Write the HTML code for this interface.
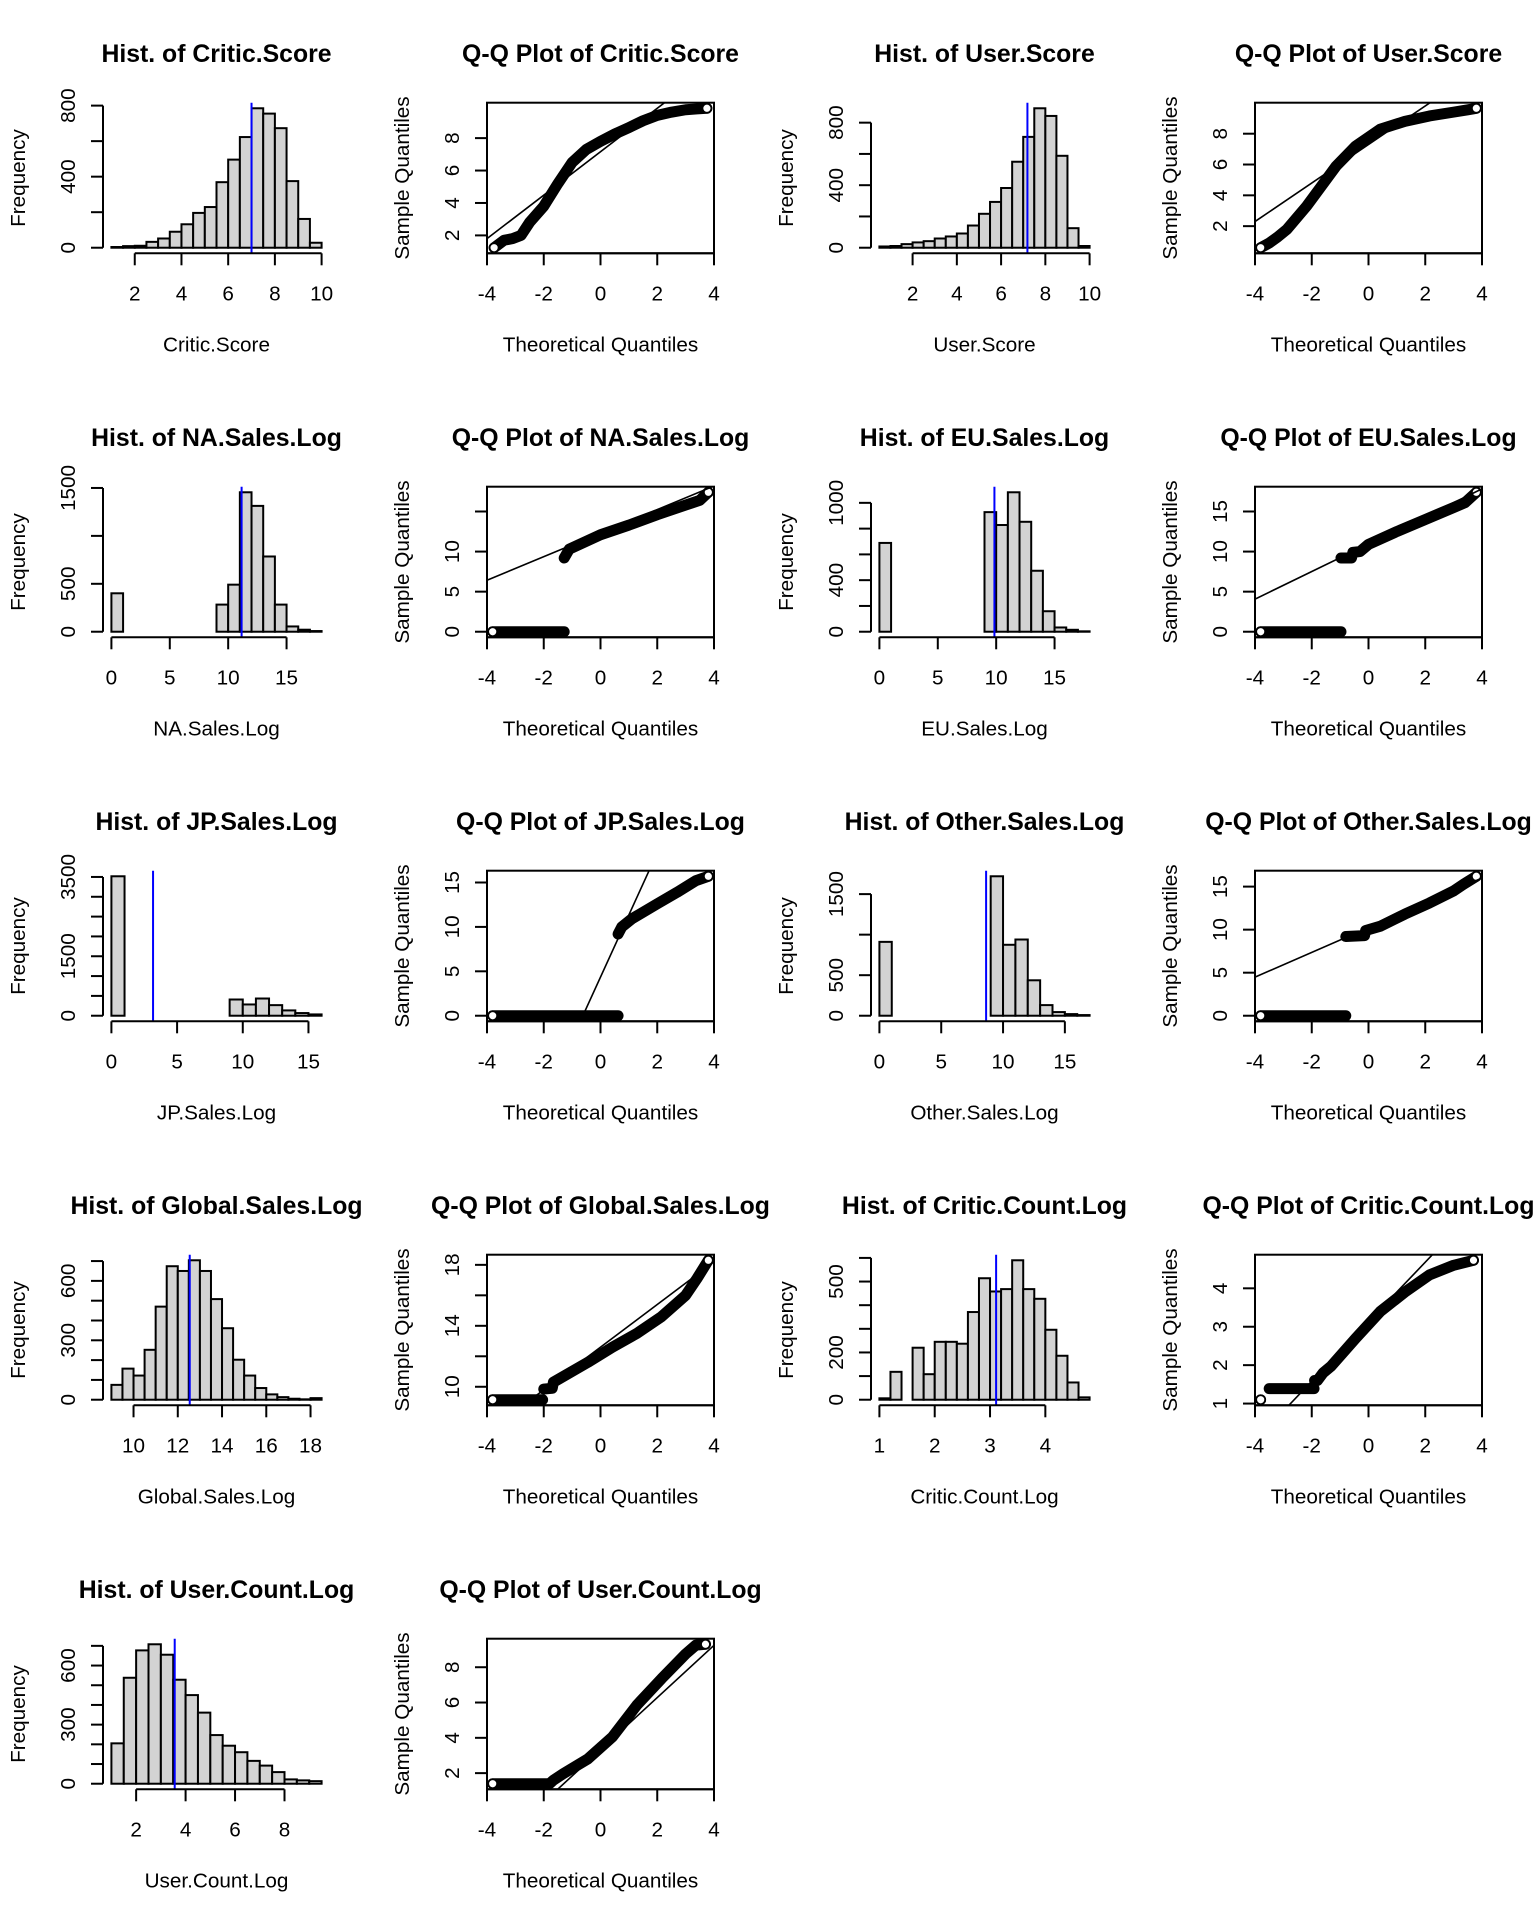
<!DOCTYPE html>
<html><head><meta charset="utf-8"><style>
html,body{margin:0;padding:0;background:#fff;}
svg{display:block;font-family:"Liberation Sans",Arial,sans-serif;}
</style></head><body>
<svg id="chart" xmlns="http://www.w3.org/2000/svg" width="1536" height="1920" viewBox="0 0 1536 1920">
<rect x="0" y="0" width="1536" height="1920" fill="#fff"/>
</svg>
<script>
// ---- Histogram data ----
const critScoreCounts=[4,9,11,33,52,90,132,196,229,369,496,623,785,755,673,375,162,28];
const critScoreStart=1, critScoreBinW=0.5, critScoreMean=7.0;
const userScoreCounts=[8,11,23,34,42,59,72,91,142,217,293,382,550,709,892,843,588,125,11];
const userScoreStart=0.5, userScoreBinW=0.5, userScoreMean=7.19;
const naCounts=[401,0,0,0,0,0,0,0,0,283,491,1455,1313,785,283,55,21,7];
const naStart=0, naBinW=1, naMean=11.15;
const euCounts=[689,0,0,0,0,0,0,0,0,928,828,1082,853,473,159,33,15,3];
const euStart=0, euBinW=1, euMean=9.85;
const jpCounts=[3517,0,0,0,0,0,0,0,0,409,284,434,267,134,67,33];
const jpStart=0, jpBinW=1, jpMean=3.17;
const otherCounts=[911,0,0,0,0,0,0,0,0,1720,875,940,437,131,45,20,8];
const otherStart=0, otherBinW=1, otherMean=8.63;
const globalCounts=[75,157,122,252,470,674,650,704,650,508,361,202,122,59,27,13,5,2,8];
const globalStart=9, globalBinW=0.5, globalMean=12.54;
const ccCounts=[6,118,0,220,108,245,245,237,371,514,458,468,590,468,427,296,186,73,10];
const ccStart=1, ccBinW=0.2, ccMean=3.11;
const ucCounts=[205,538,677,708,655,528,450,361,247,193,160,116,92,59,22,17,13];
const ucStart=1, ucBinW=0.5, ucMean=3.56;
// ---- Histogram ticks ----
const critXTicks=[2,4,6,8,10], critYTicks=[0,200,400,600,800], critYLabels=[0,400,800];
const userXTicks=[2,4,6,8,10], userYTicks=[0,200,400,600,800], userYLabels=[0,400,800];
const naXTicks=[0,5,10,15], naYTicks=[0,500,1000,1500], naYLabels=[0,500,1500];
const euXTicks=[0,5,10,15], euYTicks=[0,200,400,600,800,1000], euYLabels=[0,400,1000];
const jpXTicks=[0,5,10,15], jpYTicks=[0,500,1000,1500,2000,2500,3000,3500], jpYLabels=[0,1500,3500];
const otherXTicks=[0,5,10,15], otherYTicks=[0,500,1000,1500], otherYLabels=[0,500,1500];
const globalXTicks=[10,12,14,16,18], globalYTicks=[0,100,200,300,400,500,600,700], globalYLabels=[0,300,600];
const ccXTicks=[1,2,3,4], ccYTicks=[0,100,200,300,400,500,600], ccYLabels=[0,200,500];
const ucXTicks=[2,4,6,8], ucYTicks=[0,100,200,300,400,500,600,700], ucYLabels=[0,300,600];
// ---- Q-Q data (theoretical, sample; null = gap) ----
const qqCritX=[-3.75,-3.4,-3.1,-2.8,-2.5,-2,-1.5,-1,-0.5,0,0.5,1,1.5,2,2.5,3,3.4,3.75];
const qqCritY=[1.24,1.7,1.8,2.0,2.8,3.8,5.2,6.5,7.3,7.8,8.25,8.65,9.07,9.4,9.6,9.75,9.8,9.84];
const qqCritLine=[7.16,1.34];
const qqUserX=[-3.8,-3.5,-3.2,-2.87,-2.18,-1.66,-1.14,-0.45,0.42,1.28,2.15,3.0,3.5,3.8];
const qqUserY=[0.6,0.9,1.3,1.8,3.3,4.6,5.9,7.2,8.3,8.8,9.15,9.4,9.55,9.65];
const qqUserLine=[7.3,1.25];
const qqNaX=[-3.8,-1.28,null,-1.28,-1.1,0,1,2,3,3.5,3.8];
const qqNaY=[0,0,null,9.2,10.3,12.1,13.3,14.6,15.8,16.4,17.4];
const qqNaLine=[12.3,1.47];
const qqEuX=[-3.8,-0.97,null,-0.97,-0.6,-0.55,-0.3,0,1,2,3,3.4,3.8];
const qqEuY=[0,0,null,9.2,9.2,9.9,10.0,10.9,12.5,14.0,15.5,16.1,17.4];
const qqEuLine=[10.95,1.72];
const qqJpX=[-3.8,0.62,null,0.62,0.75,1.1,2,2.7,3.36,3.8];
const qqJpY=[0,0,null,9.2,10.0,10.9,12.6,13.9,15.2,15.7];
const qqJpLine=[4.35,7.0];
const qqOtherX=[-3.8,-0.8,null,-0.8,-0.14,-0.1,0.42,1.28,2.15,3.0,3.36,3.8];
const qqOtherY=[0,0,null,9.2,9.3,9.9,10.4,11.8,13.1,14.5,15.3,16.2];
const qqOtherLine=[10.24,1.44];
const qqGlobalX=[-3.8,-2.04,null,-2.0,-1.7,-1.66,-0.45,0.42,1.28,2.15,3.0,3.4,3.8];
const qqGlobalY=[9.15,9.15,null,9.85,9.9,10.3,11.6,12.6,13.5,14.6,16.0,17.1,18.3];
const qqGlobalLine=[12.6,1.4];
const qqCcX=[-3.8,null,-3.5,-1.92,null,-1.9,-1.8,-1.6,-1.32,-0.45,0.42,1.28,2.15,3.0,3.7];
const qqCcY=[1.1,null,1.39,1.39,null,1.6,1.6,1.8,1.97,2.7,3.4,3.9,4.35,4.6,4.73];
const qqCcLine=[3.13,0.775];
const qqUcX=[-3.8,-1.8,-1.66,-1.32,-0.45,0.42,1.28,2.15,3.0,3.36,3.7];
const qqUcY=[1.4,1.4,1.6,1.96,2.8,4.05,5.85,7.35,8.75,9.25,9.3];
const qqUcLine=[3.32,1.48];
const qqXTicks=[-4,-2,0,2,4];
const qqCritYTicks=[2,4,6,8], qqCritYLabels=[2,4,6,8];
const qqUserYTicks=[2,4,6,8], qqUserYLabels=[2,4,6,8];
const qqNaYTicks=[0,5,10,15], qqNaYLabels=[0,5,10];
const qqEuYTicks=[0,5,10,15], qqEuYLabels=[0,5,10,15];
const qqJpYTicks=[0,5,10,15], qqJpYLabels=[0,5,10,15];
const qqOtherYTicks=[0,5,10,15], qqOtherYLabels=[0,5,10,15];
const qqGlobalYTicks=[10,12,14,16,18], qqGlobalYLabels=[10,14,18];
const qqCcYTicks=[1,2,3,4], qqCcYLabels=[1,2,3,4];
const qqUcYTicks=[2,4,6,8], qqUcYLabels=[2,4,6,8];

const NS='http://www.w3.org/2000/svg';
const svg=document.getElementById('chart');
const L=103,R=330,T=102.7,B=253.3;
function el(tag,attrs,parent,text){const e=document.createElementNS(NS,tag);for(const k in attrs)e.setAttribute(k,attrs[k]);if(text!==undefined)e.textContent=text;(parent||svg).appendChild(e);return e;}
function slug(s){return s.toLowerCase().replace(/[^a-z0-9]+/g,'-').replace(/^-|-$/g,'');}
function common(g,x0,y0,title,xlab,ylab){
  const t=el('text',{x:x0+216.5,y:y0+62,'text-anchor':'middle','font-size':'24.8','font-weight':'bold'},g,title);
  
  
  const xl=el('text',{x:x0+216.5,y:y0+351.7,'text-anchor':'middle','font-size':'20.7'},g,xlab);
  
  
  const yl=el('text',{x:0,y:0,'text-anchor':'middle','font-size':'20.7',transform:`translate(${x0+25},${y0+178}) rotate(-90)`},g,ylab);
  
  
}
function xAxis(g,x0,y0,ticks,sx){
  const a=el('line',{x1:sx(ticks[0]),x2:sx(ticks[ticks.length-1]),y1:y0+B,y2:y0+B,stroke:'#000','stroke-width':2},g);
  
  
  ticks.forEach(v=>{
    el('line',{x1:sx(v),x2:sx(v),y1:y0+B,y2:y0+B+12,stroke:'#000','stroke-width':2},g);
    const tl=el('text',{x:sx(v),y:y0+300.7,'text-anchor':'middle','font-size':'20.7'},g,String(v));
    
    
  });
}
function yAxis(g,x0,y0,ticks,labels,sy,line){
  if(line){const a=el('line',{x1:x0+L,x2:x0+L,y1:sy(ticks[0]),y2:sy(ticks[ticks.length-1]),stroke:'#000','stroke-width':2},g);
    
    }
  ticks.forEach(v=>{el('line',{x1:x0+L-12,x2:x0+L,y1:sy(v),y2:sy(v),stroke:'#000','stroke-width':2},g);});
  labels.forEach(v=>{
    const tl=el('text',{x:0,y:0,'text-anchor':'middle','font-size':'20.7',transform:`translate(${x0+75},${sy(v)}) rotate(-90)`},g,String(v));
    
    
  });
}
function hist(col,row,name,counts,start,w,mean,xticks,yticks,ylabels){
  const x0=col*384,y0=row*384;
  const g=el('g',{});
  
  
  const xmin=start,xmax=start+w*counts.length,ex=(xmax-xmin)*0.04;
  const sx=v=>x0+L+(v-(xmin-ex))/(xmax-xmin+2*ex)*(R-L);
  const ymax=Math.max(...counts);
  const sy=v=>y0+B-(v+0.04*ymax)/(1.08*ymax)*(B-T);
  counts.forEach((c,i)=>{
    const xa=sx(start+i*w),xb=sx(start+(i+1)*w);
    const r=el('rect',{x:xa,y:sy(c),width:xb-xa,height:sy(0)-sy(c),fill:'#d3d3d3',stroke:'#000','stroke-width':2},g);
    
    
  });
  const m=el('line',{x1:sx(mean),x2:sx(mean),y1:y0+T,y2:y0+B,stroke:'#0000ff','stroke-width':2},g);
  
  
  xAxis(g,x0,y0,xticks,sx);
  yAxis(g,x0,y0,yticks,ylabels,sy,true);
  common(g,x0,y0,'Hist. of '+name,name,'Frequency');
}
function qq(col,row,name,qx,qy,lineP,yticks,ylabels){
  const x0=col*384,y0=row*384;
  const g=el('g',{});
  
  
  const vals=qy.filter(v=>v!==null);
  const mn=Math.min(...vals),mx=Math.max(...vals),ex=(mx-mn)*0.04;
  const sx=v=>x0+L+(v+4)/8*(R-L);
  const sy=v=>y0+B-(v-(mn-ex))/(mx-mn+2*ex)*(B-T);
  const cid='clip'+col+'_'+row;
  const cp=el('clipPath',{id:cid},g);
  el('rect',{x:x0+L,y:y0+T,width:R-L,height:B-T},cp);
  const cg=el('g',{'clip-path':`url(#${cid})`},g);
  let segs=[],cur=[];
  qx.forEach((x,i)=>{if(x===null){if(cur.length)segs.push(cur);cur=[];}else cur.push([x,qy[i]]);});
  if(cur.length)segs.push(cur);
  segs.forEach(s=>{
    if(s.length===1)return;
    const p=el('polyline',{points:s.map(p=>sx(p[0])+','+sy(p[1])).join(' '),fill:'none',stroke:'#000','stroke-width':11,'stroke-linecap':'round','stroke-linejoin':'round'},cg);
    
    
  });
  const ends=[segs[0][0],segs[segs.length-1][segs[segs.length-1].length-1]];
  segs.forEach(s=>{if(s.length===1)ends.push(s[0]);});
  ends.forEach(p=>{
    const c=el('circle',{cx:sx(p[0]),cy:sy(p[1]),r:4.5,fill:'#fff',stroke:'#000','stroke-width':1.8},cg);
    
    
  });
  const ln=el('line',{x1:sx(-4),x2:sx(4),y1:sy(lineP[0]-4*lineP[1]),y2:sy(lineP[0]+4*lineP[1]),stroke:'#000','stroke-width':1.6},cg);
  
  
  const box=el('rect',{x:x0+L,y:y0+T,width:R-L,height:B-T,fill:'none',stroke:'#000','stroke-width':2},g);
  
  
  xAxis(g,x0,y0,qqXTicks,sx);
  yAxis(g,x0,y0,yticks,ylabels,sy,false);
  common(g,x0,y0,'Q-Q Plot of '+name,'Theoretical Quantiles','Sample Quantiles');
}
hist(0,0,'Critic.Score',critScoreCounts,critScoreStart,critScoreBinW,critScoreMean,critXTicks,critYTicks,critYLabels);
qq(1,0,'Critic.Score',qqCritX,qqCritY,qqCritLine,qqCritYTicks,qqCritYLabels);
hist(2,0,'User.Score',userScoreCounts,userScoreStart,userScoreBinW,userScoreMean,userXTicks,userYTicks,userYLabels);
qq(3,0,'User.Score',qqUserX,qqUserY,qqUserLine,qqUserYTicks,qqUserYLabels);
hist(0,1,'NA.Sales.Log',naCounts,naStart,naBinW,naMean,naXTicks,naYTicks,naYLabels);
qq(1,1,'NA.Sales.Log',qqNaX,qqNaY,qqNaLine,qqNaYTicks,qqNaYLabels);
hist(2,1,'EU.Sales.Log',euCounts,euStart,euBinW,euMean,euXTicks,euYTicks,euYLabels);
qq(3,1,'EU.Sales.Log',qqEuX,qqEuY,qqEuLine,qqEuYTicks,qqEuYLabels);
hist(0,2,'JP.Sales.Log',jpCounts,jpStart,jpBinW,jpMean,jpXTicks,jpYTicks,jpYLabels);
qq(1,2,'JP.Sales.Log',qqJpX,qqJpY,qqJpLine,qqJpYTicks,qqJpYLabels);
hist(2,2,'Other.Sales.Log',otherCounts,otherStart,otherBinW,otherMean,otherXTicks,otherYTicks,otherYLabels);
qq(3,2,'Other.Sales.Log',qqOtherX,qqOtherY,qqOtherLine,qqOtherYTicks,qqOtherYLabels);
hist(0,3,'Global.Sales.Log',globalCounts,globalStart,globalBinW,globalMean,globalXTicks,globalYTicks,globalYLabels);
qq(1,3,'Global.Sales.Log',qqGlobalX,qqGlobalY,qqGlobalLine,qqGlobalYTicks,qqGlobalYLabels);
hist(2,3,'Critic.Count.Log',ccCounts,ccStart,ccBinW,ccMean,ccXTicks,ccYTicks,ccYLabels);
qq(3,3,'Critic.Count.Log',qqCcX,qqCcY,qqCcLine,qqCcYTicks,qqCcYLabels);
hist(0,4,'User.Count.Log',ucCounts,ucStart,ucBinW,ucMean,ucXTicks,ucYTicks,ucYLabels);
qq(1,4,'User.Count.Log',qqUcX,qqUcY,qqUcLine,qqUcYTicks,qqUcYLabels);
</script>
</body></html>
